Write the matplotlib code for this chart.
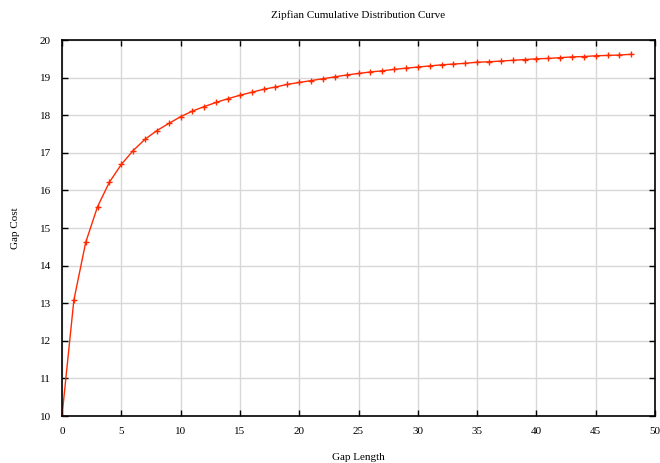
import matplotlib
matplotlib.use('Agg')
import matplotlib.pyplot as plt

# gap length vs cost
gap_length = list(range(0, 49))
gap_cost = [10.00, 13.08, 14.62, 15.57, 16.22, 16.69, 17.06, 17.36, 17.59, 17.78,
            17.96, 18.11, 18.23, 18.34, 18.44, 18.53, 18.61, 18.69, 18.75, 18.82,
            18.87, 18.92, 18.97, 19.02, 19.07, 19.11, 19.15, 19.18, 19.22, 19.25,
            19.28, 19.31, 19.34, 19.36, 19.38, 19.41, 19.42, 19.44, 19.46, 19.48,
            19.50, 19.51, 19.53, 19.55, 19.56, 19.58, 19.59, 19.60, 19.62]
x_ticks = list(range(0, 51, 5))
y_ticks = list(range(10, 21, 1))

plt.rcParams['font.family'] = ['Liberation Serif', 'DejaVu Serif']
plt.rcParams['font.size'] = 8

fig = plt.figure(figsize=(6.6, 4.63), dpi=100)
ax = fig.add_axes([62/660, 1 - 416/463, 593/660, 376/463])

ax.plot(gap_length, gap_cost, color='#ff2a00', lw=1.0, marker='+', ms=5, mew=1.0)

ax.set_xlim(0, 50)
ax.set_ylim(10, 20)
ax.set_xticks(x_ticks)
ax.set_yticks(y_ticks)
ax.grid(True, color='#d8d8d8', lw=1.0)
ax.set_axisbelow(True)
ax.tick_params(direction='in', length=4, width=1, top=True, right=True, pad=8)
for s in ax.spines.values():
    s.set_linewidth(1.2)

fig.text(358/660, 1 - 15/463, 'Zipfian Cumulative Distribution Curve', ha='center', va='center')
fig.text(16/660, 1 - 228/463, 'Gap Cost', rotation=90, ha='center', va='center')
fig.text(358/660, 1 - 457/463, 'Gap Length', ha='center', va='center')

fig.savefig('out.png', dpi=100)
